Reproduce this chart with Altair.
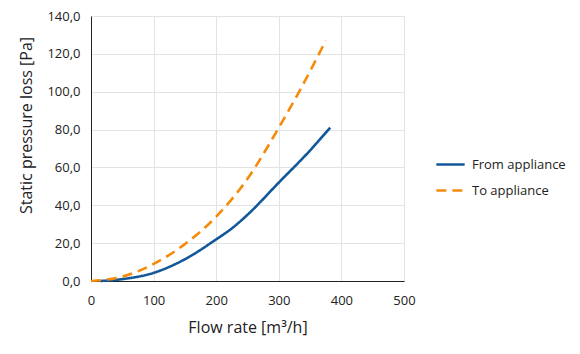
import altair as alt
import pandas as pd

from_x = [15, 50, 100, 150, 200, 225, 250, 300, 350, 382]
from_y = [0.0, 1.0, 4.3, 11.5, 22.0, 27.8, 35.0, 52.0, 69.0, 81.0]
to_x = [0, 50, 100, 150, 200, 250, 300, 330, 375]
to_y = [0.0, 2.3, 9.0, 19.5, 34.0, 54.0, 81.0, 98.5, 127.0]

series_names = ["From appliance", "To appliance"]

rows = []
for x, y in zip(from_x, from_y):
    rows.append({"flow": x, "loss": y, "series": series_names[0]})
for x, y in zip(to_x, to_y):
    rows.append({"flow": x, "loss": y, "series": series_names[1]})
df = pd.DataFrame(rows)

FONT = "Open Sans"

chart = alt.Chart(df).mark_line(strokeWidth=2.6, interpolate="monotone").encode(
    x=alt.X("flow:Q", title="Flow rate [m³/h]",
            scale=alt.Scale(domain=[0, 500], nice=False),
            axis=alt.Axis(values=[0, 100, 200, 300, 400, 500], labelFontSize=13,
                          titleFontSize=16, titleFontWeight="normal", labelColor="#222",
                          titleColor="#222", domainColor="#222", ticks=False,
                          labelPadding=13, titlePadding=12, grid=True, labelFlush=False,
                          gridColor="#e3e3e3", labelFont=FONT, titleFont=FONT)),
    y=alt.Y("loss:Q", title="Static pressure loss [Pa]",
            scale=alt.Scale(domain=[0, 140], nice=False),
            axis=alt.Axis(values=[0, 20, 40, 60, 80, 100, 120, 140], labelFontSize=13,
                          labelExpr="replace(format(datum.value, '.1f'), '.', ',')",
                          titleFontSize=16, titleFontWeight="normal", labelColor="#222",
                          titleColor="#222", domainColor="#222", ticks=False,
                          labelPadding=11, titlePadding=12, grid=True, labelFlush=False,
                          titleY=109,
                          gridColor="#e3e3e3", labelFont=FONT, titleFont=FONT)),
    color=alt.Color("series:N", scale=alt.Scale(domain=series_names, range=["#11589a", "#f58a0b"]),
                    legend=alt.Legend(title=None, orient="none", legendX=344, legendY=133,
                                      symbolType="stroke", symbolStrokeWidth=2.6,
                                      symbolSize=800, labelFontSize=13, labelFont=FONT,
                                      labelColor="#222", rowPadding=3, padding=0, labelOffset=6)),
    strokeDash=alt.StrokeDash("series:N", scale=alt.Scale(domain=series_names, range=[[1, 0], [10, 6]]),
                              legend=None),
).properties(
    width=313, height=265,
    autosize=alt.AutoSizeParams(type="none"),
    padding={"left": 91, "top": 16, "right": 176, "bottom": 73},
).configure_view(stroke="#e3e3e3", strokeWidth=1).configure(background="white")

chart.save("out.html", embed_options={"renderer": "svg", "actions": False})
